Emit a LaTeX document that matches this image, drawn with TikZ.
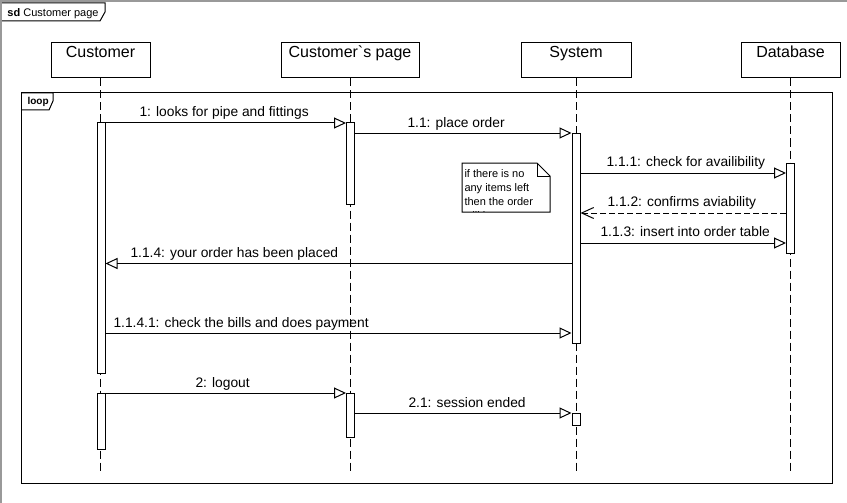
\documentclass[tikz,border=0pt]{standalone}
\usepackage{fontspec}
\setmainfont{Liberation Sans}[Ligatures=TeXOff]
\usetikzlibrary{arrows.meta}
\begin{document}
\begin{tikzpicture}[x=1pt,y=-1pt,line width=1pt,
  head/.style={draw, minimum height=35pt, inner sep=0pt},
  headtext/.style={font=\fontsize{16}{18}\selectfont, anchor=base, inner sep=0pt},
  lifeline/.style={draw, dash pattern=on 8pt off 4pt},
  actbar/.style={draw, fill=white, minimum width=8pt, inner sep=0pt},
  msg/.style={-{Triangle[open, length=12pt, width=11pt]}},
  reply/.style={dash pattern=on 6pt off 3pt, -{Straight Barb[length=12pt, width=11pt]}},
  lbl/.style={font=\fontsize{13.8}{16}\selectfont, anchor=base west, inner sep=0pt},
  notetext/.style={font=\fontsize{11}{14}\selectfont, anchor=base west, inner sep=0pt},
  tabtext/.style={font=\fontsize{11}{13}\selectfont, anchor=base west, inner sep=0pt}]
\useasboundingbox (0,0) rectangle (847,503);
\fill[white] (0,0) rectangle (847,503);
% outer frame
\draw[gray!80, line width=1.5pt] (1,503) -- (1,1) -- (847,1);
\draw (2,3) -- (105,3) -- (105,12) -- (100,21) -- (2,21);
\node[tabtext] (sdlbl) at (7,17) {\textbf{sd} Customer page};
% lifeline heads
\node[head, minimum width=99pt] (hC) at (100.5,60.5) {};
\node[head, minimum width=138pt] (hP) at (350,60.5) {};
\node[head, minimum width=110pt] (hS) at (576,60.5) {};
\node[head, minimum width=99pt] (hD) at (790.5,60.5) {};
\node[headtext] (tC) at (100.5,58) {Customer};
\node[headtext] (tP) at (350,58) {Customer\symbol{96}s page};
\node[headtext] (tS) at (576,58) {System};
\node[headtext] (tD) at (790.5,58) {Database};
% loop fragment
\draw (21,93) rectangle (832,483);
\draw (21,93) -- (53,93) -- (53,101) -- (49,110) -- (21,110);
\node[tabtext, font=\fontsize{10}{12}\selectfont\bfseries] (looplbl) at (27,104) {loop};
% lifelines
\coordinate (yend) at (0,472);
\draw[lifeline] (hC) -- (hC |- yend);
\draw[lifeline] (hP) -- (hP |- yend);
\draw[lifeline] (hS) -- (hS |- yend);
\draw[lifeline] (hD) -- (hD |- yend);
% activation bars
\node[actbar, minimum height=250pt] (cb1) at (101,248) {};
\node[actbar, minimum height=56pt] (cb2) at (101,421) {};
\node[actbar, minimum height=81pt] (pb1) at (350.5,163.5) {};
\node[actbar, minimum height=44pt] (pb2) at (350.5,415) {};
\node[actbar, minimum height=210pt] (sb1) at (576,238) {};
\node[actbar, minimum height=12pt] (sb2) at (576,419) {};
\node[actbar, minimum height=90pt] (db1) at (790.5,208) {};
% message heights
\coordinate (m1) at (0,123);
\coordinate (m11) at (0,133);
\coordinate (m111) at (0,173);
\coordinate (m112) at (0,213);
\coordinate (m113) at (0,243);
\coordinate (m114) at (0,263.5);
\coordinate (m1141) at (0,333);
\coordinate (m2) at (0,393);
\coordinate (m21) at (0,413);
% messages
\draw[msg] (cb1.east |- m1) -- (pb1.west |- m1);
\draw[msg] (pb1.east |- m11) -- (sb1.west |- m11);
\draw[msg] (sb1.east |- m111) -- (db1.west |- m111);
\draw[reply] (db1.west |- m112) -- (sb1.east |- m112);
\draw[msg] (sb1.east |- m113) -- (db1.west |- m113);
\draw[msg] (sb1.west |- m114) -- (cb1.east |- m114);
\draw[msg] (cb1.east |- m1141) -- (sb1.west |- m1141);
\draw[msg] (cb2.east |- m2) -- (pb2.west |- m2);
\draw[msg] (pb2.east |- m21) -- (sb2.west |- m21);
% labels
\node[lbl] (l1) at (139,117) {1: looks for pipe and fittings};
\node[lbl] (l11) at (407,128) {1.1: place order};
\node[lbl] (l111) at (606,166) {1.1.1: check for availibility};
\node[lbl] (l112) at (607,206) {1.1.2: confirms aviability};
\node[lbl] (l113) at (600,236) {1.1.3: insert into order table};
\node[lbl] (l114) at (130,257) {1.1.4: your order has been placed};
\node[lbl] (l1141) at (113,327) {1.1.4.1: check the bills and does payment};
\node[lbl] (l2) at (195,387) {2: logout};
\node[lbl] (l21) at (408,407) {2.1: session ended};
% note
\draw[fill=white] (462,163) -- (537,163) -- (550,176) -- (550,212) -- (462,212) -- cycle;
\draw (537,163) -- (537,176) -- (550,176);
\begin{scope}
\clip (463,164) rectangle (549,211.5);
\node[notetext] (n1) at (464,177) {if there is no};
\node[notetext] (n2) at (464,191) {any items left};
\node[notetext] (n3) at (464,205) {then the order};
\node[notetext] (n4) at (464,219) {will be};
\end{scope}
\end{tikzpicture}
\end{document}
